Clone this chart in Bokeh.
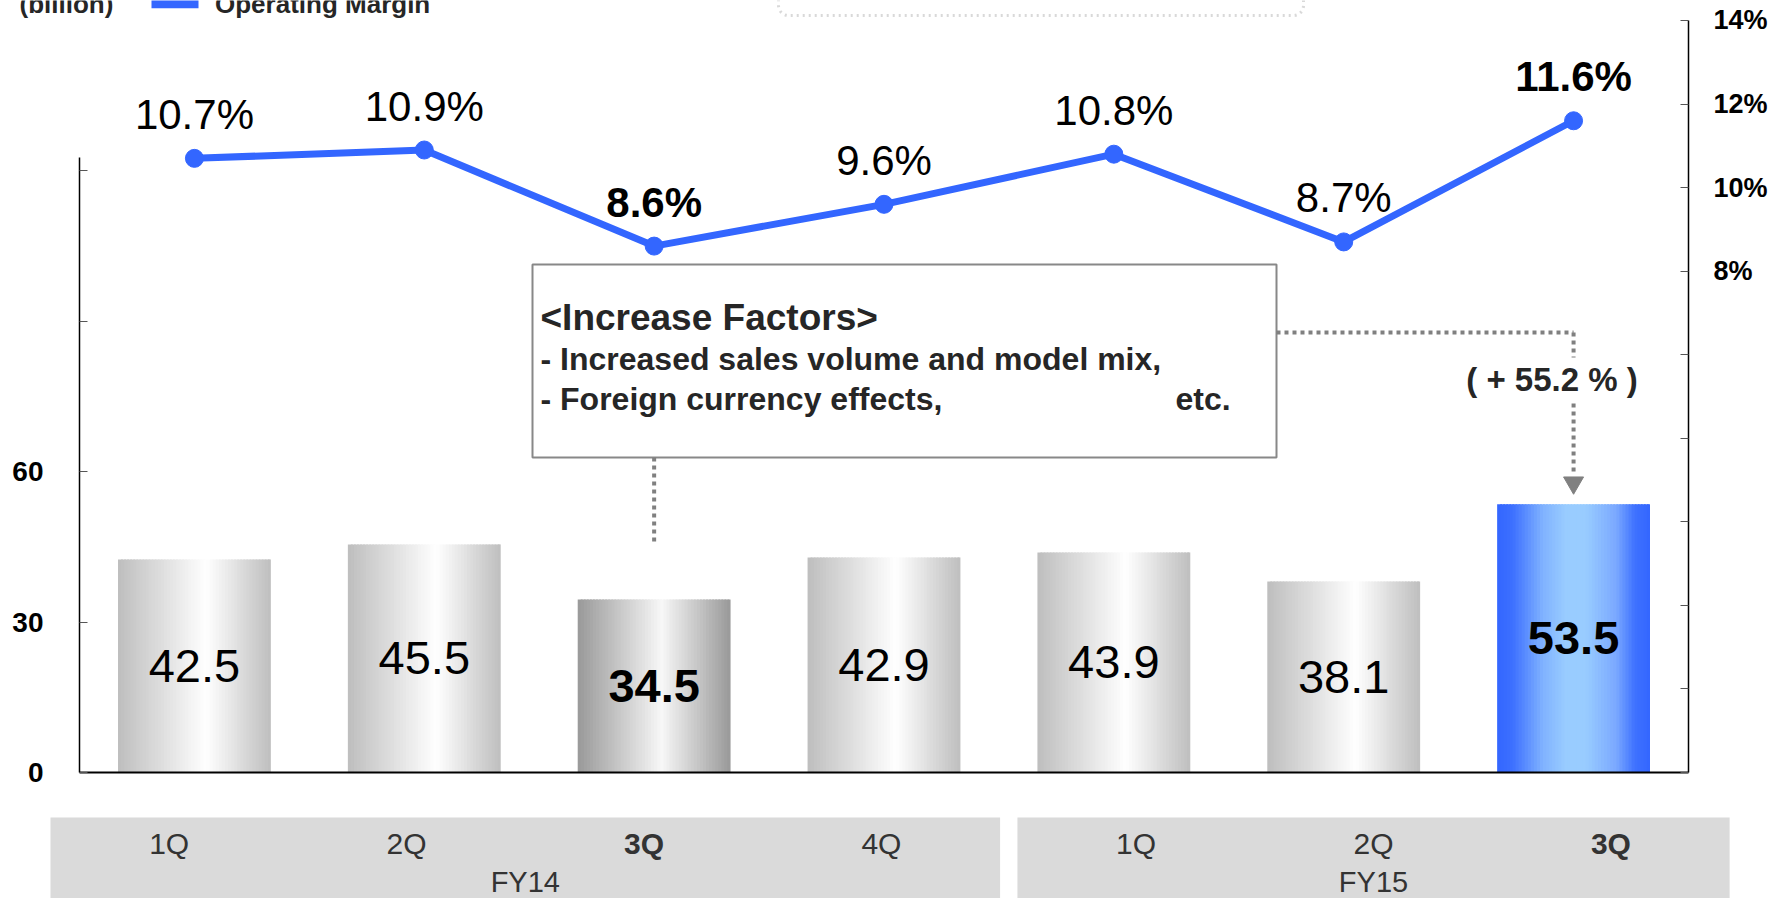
from bokeh.plotting import figure
from bokeh.models import Range1d, LinearAxis, FixedTicker, BoxAnnotation, ColumnDataSource
from bokeh.embed import file_html
from bokeh.resources import INLINE
from bokeh.core.properties import value

# ---------------- data ----------------
quarters = ["1Q", "2Q", "3Q", "4Q", "1Q", "2Q", "3Q"]
fiscal_years = ["FY14", "FY15"]
fy_quarter_counts = [4, 3]
operating_income = [42.5, 45.5, 34.5, 42.9, 43.9, 38.1, 53.5]      # billion
operating_margin = [10.7, 10.9, 8.6, 9.6, 10.8, 8.7, 11.6]          # %
left_ticks = [0, 30, 60, 90, 120]
left_tick_labels = {0: "0", 30: "30", 60: "60", 90: "", 120: ""}
right_ticks = [-4, -2, 0, 2, 4, 6, 8, 10, 12, 14]
right_tick_labels = {-4: "", -2: "", 0: "", 2: "", 4: "", 6: "",
                     8: "8%", 10: "10%", 12: "12%", 14: "14%"}
unit_label = "(billion)"
legend_label = "Operating Margin"
factor_title = "<Increase Factors>"
factor_lines = ["- Increased sales volume and model mix,", "- Foreign currency effects,"]
factor_etc = "etc."
growth_label = "(  + 55.2 % )"

# ---------------- styles / layout ----------------
FONT = "Liberation Sans"
BLUE = "#3366FF"
TXT = "#262626"
DOT = "#808080"

W, H = 1787, 898
X_PX = 229.857       # pixels per category slot
Y_PX = 5.0133        # pixels per billion (left scale)
P_PX = 41.778        # pixels per % (right scale)
AX_LEFT, BASE = 79, 772   # pixel position of left axis / zero line

n = len(operating_income)
xs = [i + 0.5 for i in range(n)]
latest = n - 1
is_hl = [q == "3Q" for q in quarters]

def dx(px):   # pixel column -> x data
    return (px - AX_LEFT) / X_PX

def dy(py):   # pixel row -> left-scale data
    return (BASE - py) / Y_PX

p = figure(width=W, height=H, x_range=Range1d(dx(0), dx(W)), y_range=Range1d(dy(H), dy(0)),
           x_axis_location=None, y_axis_location=None,
           toolbar_location=None, output_backend="svg", min_border=0)
p.extra_y_ranges = {"pct": Range1d(-4 - (H - BASE) / P_PX, -4 + BASE / P_PX)}
p.xgrid.visible = False
p.ygrid.visible = False
p.outline_line_color = None
p.background_fill_color = "white"
p.border_fill_color = "white"

la = LinearAxis(fixed_location=0, ticker=FixedTicker(ticks=left_ticks),
                major_label_overrides=left_tick_labels, bounds=(0, 122.7),
                major_tick_in=8, major_tick_out=0, minor_tick_line_color=None,
                major_label_standoff=36, major_label_text_font=FONT,
                major_label_text_font_style="bold", major_label_text_font_size="28px",
                major_label_text_color="black", axis_line_color="black", axis_line_width=1.5,
                major_tick_line_color="#555555")
p.add_layout(la, "left")

ra = LinearAxis(y_range_name="pct", fixed_location=n, ticker=FixedTicker(ticks=right_ticks),
                major_label_overrides=right_tick_labels, bounds=(-4, 14),
                major_tick_in=8, major_tick_out=0, minor_tick_line_color=None,
                major_label_standoff=25, major_label_text_font=FONT,
                major_label_text_font_style="bold", major_label_text_font_size="27px",
                major_label_text_color="black", axis_line_color="black", axis_line_width=1.5,
                major_tick_line_color="#555555")
p.add_layout(ra, "right")

# ---------------- gradient bars ----------------
def hex2rgb(h):
    h = h.lstrip("#")
    return tuple(int(h[i:i + 2], 16) for i in (0, 2, 4))

def interp(stops, t):
    for (t0, c0), (t1, c1) in zip(stops[:-1], stops[1:]):
        if t0 <= t <= t1:
            f = (t - t0) / (t1 - t0) if t1 > t0 else 0
            a, b = hex2rgb(c0), hex2rgb(c1)
            return "#%02x%02x%02x" % tuple(int(round(a[k] + (b[k] - a[k]) * f)) for k in range(3))
    return stops[-1][1]

grey_stops = [(0, "#bebebe"), (0.58, "#ffffff"), (1, "#bebebe")]
dark_stops = [(0, "#999999"), (0.55, "#f7f7f7"), (1, "#999999")]
blue_stops = [(0, "#3366ff"), (0.1, "#3d70ff"), (0.3, "#80b2ff"), (0.45, "#99ccff"),
              (0.58, "#99ccff"), (0.78, "#7aa8ff"), (0.9, "#3f72ff"), (1, "#3366ff")]

BAR_W = 0.665
NS = 50
sl, sr, stop_, scol = [], [], [], []
for i, v in enumerate(operating_income):
    stops = blue_stops if i == latest else (dark_stops if is_hl[i] else grey_stops)
    left = xs[i] - BAR_W / 2
    right = xs[i] + BAR_W / 2
    step = BAR_W / NS
    for k in range(NS):
        t = (k + 0.5) / NS
        sl.append(left + k * step)
        sr.append(min(left + (k + 1.6) * step, right))
        stop_.append(v)
        scol.append(interp(stops, t))
p.quad(left=sl, right=sr, top=stop_, bottom=0, fill_color=scol, line_color=None)

bar_src = ColumnDataSource(dict(x=xs, y=[v / 2 for v in operating_income],
                                t=["%.1f" % v for v in operating_income],
                                s=["bold" if h else "normal" for h in is_hl]))
p.text(x="x", y="y", text="t", source=bar_src, text_align="center", text_baseline="middle",
       text_font=value(FONT), text_font_size="47px", text_font_style="s", text_color="black")

# zero line
p.segment(x0=[0], y0=[0], x1=[n], y1=[0], line_color="black", line_width=2)

# ---------------- margin line ----------------
p.line(x=xs, y=operating_margin, y_range_name="pct", line_color=BLUE, line_width=7)
p.scatter(x=xs, y=operating_margin, y_range_name="pct", size=18, fill_color=BLUE, line_color=BLUE)
m_src = ColumnDataSource(dict(x=xs, y=operating_margin,
                              t=["%.1f%%" % m for m in operating_margin],
                              s=["bold" if h else "normal" for h in is_hl]))
p.text(x="x", y="y", text="t", source=m_src, y_range_name="pct", y_offset=-44,
       text_align="center", text_baseline="middle", text_font=value(FONT),
       text_font_size="42px", text_font_style="s", text_color="black")

# ---------------- annotation box ----------------
box_l, box_r, box_b, box_t = dx(532), dx(1276), dy(457), dy(264)
p.quad(left=[box_l], right=[box_r], bottom=[box_b], top=[box_t], fill_color="white",
       line_color="#888888", line_width=2)
tx = dx(540)
p.text(x=[tx], y=[dy(317)], text=[factor_title], text_align="left", text_baseline="middle",
       text_font=value(FONT), text_font_style="bold", text_font_size="37px", text_color=TXT)
p.text(x=[tx, tx], y=[dy(358), dy(398)], text=factor_lines, text_align="left",
       text_baseline="middle", text_font=value(FONT), text_font_style="bold",
       text_font_size="32px", text_color=TXT)
p.text(x=[dx(1175)], y=[dy(398)], text=[factor_etc], text_align="left", text_baseline="middle",
       text_font=value(FONT), text_font_style="bold", text_font_size="32px", text_color=TXT)

hl_prev = 2
p.segment(x0=[xs[hl_prev]], y0=[box_b], x1=[xs[hl_prev]], y1=[operating_income[hl_prev] + 11.6],
          line_color=DOT, line_width=4, line_dash="4 4")
yc = dy(332)
p.segment(x0=[box_r, xs[latest], xs[latest]], y0=[yc, yc, dy(403)],
          x1=[xs[latest], xs[latest], xs[latest]], y1=[yc, dy(357), dy(473)],
          line_color=DOT, line_width=4, line_dash="4 4")
p.scatter(x=[xs[latest]], y=[operating_income[latest] + 4.3], marker="inverted_triangle",
          size=20, fill_color=DOT, line_color=DOT)
p.text(x=[xs[latest]], y=[dy(379)], x_offset=-17, text=[growth_label], text_align="center",
       text_baseline="middle", text_font=value(FONT), text_font_style="bold",
       text_font_size="33px", text_color=TXT)

# ---------------- header (cropped at the top edge) ----------------
p.text(x=[dx(19)], y=[dy(3)], text=[unit_label], text_align="left", text_baseline="alphabetic",
       text_font=value(FONT), text_font_style="bold", text_font_size="26px", text_color=TXT)
p.quad(left=[dx(151)], right=[dx(198)], bottom=[dy(7.7)], top=[dy(-10)], fill_color=BLUE,
       line_color=None)
p.text(x=[dx(214.5)], y=[dy(3)], text=[legend_label], text_align="left", text_baseline="alphabetic",
       text_font=value(FONT), text_font_style="bold", text_font_size="26px", text_color=TXT)
p.add_layout(BoxAnnotation(left=dx(778), right=dx(1303), bottom=dy(15), top=dy(-30), fill_alpha=0,
                           line_color=DOT, line_width=3, line_dash="dotted", border_radius=10))

# ---------------- category table ----------------
CELL = 237.4 / X_PX
T0 = dx(50)
GAP = 0.073 * CELL
starts, qx, qs = [], [], []
pos = T0
for fy, cnt in zip(fiscal_years, fy_quarter_counts):
    starts.append(pos)
    pos += cnt * CELL + GAP
ends = [s + c * CELL for s, c in zip(starts, fy_quarter_counts)]
p.quad(left=starts, right=ends, top=[dy(817)] * len(starts), bottom=[dy(H + 20)] * len(starts),
       fill_color="#dadada", line_color=None)
k = 0
for s, cnt in zip(starts, fy_quarter_counts):
    for j in range(cnt):
        qx.append(s + (j + 0.5) * CELL)
        qs.append("bold" if quarters[k] == "3Q" else "normal")
        k += 1
q_src = ColumnDataSource(dict(x=qx, y=[dy(843)] * len(qx), t=quarters, s=qs))
p.text(x="x", y="y", text="t", source=q_src, text_align="center", text_baseline="middle",
       text_font=value(FONT), text_font_size="30px", text_font_style="s", text_color="#333333")
p.text(x=[(s + e) / 2 for s, e in zip(starts, ends)], y=[dy(881)] * 2, text=fiscal_years,
       text_align="center", text_baseline="middle", text_font=value(FONT),
       text_font_size="29px", text_color="#333333")

open("out.html", "w").write(file_html(p, INLINE))
